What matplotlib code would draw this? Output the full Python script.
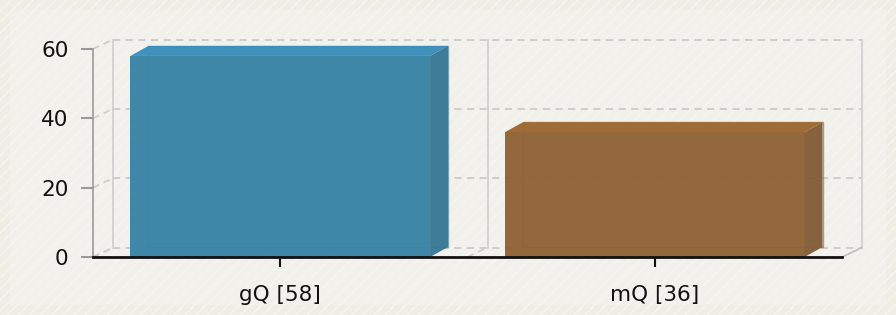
import matplotlib
matplotlib.use('Agg')
import matplotlib.pyplot as plt
from matplotlib.patches import Polygon, Rectangle

# data
labels = ['gQ [58]', 'mQ [36]']
values = [58, 36]
front_cols = ['#3783a5', '#8f6235']
top_cols = ['#3a8fbb', '#9d6830']
side_cols = ['#387896', '#845d38']
yticks = [0, 20, 40, 60]

W, H = 896, 315
fig = plt.figure(figsize=(W / 100, H / 100), dpi=100)
fig.patch.set_facecolor('#eeeee6')
# lighter inner panel with faint stripes
fig.patches.append(Rectangle((10 / W, 10 / H), 876 / W, 295 / H, transform=fig.transFigure,
                             facecolor='#f1f0eb', edgecolor='none', zorder=-2))
fig.patches.append(Rectangle((0, 0), 1, 1, transform=fig.transFigure, facecolor='none',
                             edgecolor='#f5f5f1', hatch='///', linewidth=0, zorder=-1))
plt.rcParams['hatch.linewidth'] = 1.5

ax = fig.add_axes([93 / W, 58 / H, 749 / W, 208 / H])
ax.patch.set_visible(False)
ax.set_xlim(0, 2)
ax.set_ylim(0, 60)

# pixel -> data unit helpers
px_x = 2 / 749
px_y = 60 / 208
bx, by = 20 * px_x, 9.5 * px_y   # back wall offset
dx, dy = 18 * px_x, 10 * px_y    # bar depth

grid_c = '#cbcbcb'
for v in yticks:
    ax.plot([0 + bx, 2 + bx], [v + by, v + by], color=grid_c, lw=1.3,
            ls=(0, (4, 3)), clip_on=False, zorder=1)
    ax.plot([0, bx], [v, v + by], color=grid_c, lw=1.2, ls=(0, (4, 3)),
            clip_on=False, zorder=1)
for xb in [0, 1, 2]:
    ax.plot([xb + bx, xb + bx], [by, 60 + by], color='#d0d0d0', lw=1.3,
            clip_on=False, zorder=1)
    ax.plot([xb, xb + bx], [0, by], color='#c0c0c0' if xb == 2 else grid_c, lw=1.2,
            ls='-' if xb == 2 else (0, (4, 3)), clip_on=False, zorder=1)

for i, v in enumerate(values):
    x0, x1 = i + 0.1, i + 0.9
    # hidden back edges
    ax.add_patch(Polygon([(x0 + dx, dy), (x0 + dx, v + dy), (x1 + dx, v + dy), (x1 + dx, dy)],
                         closed=True, facecolor='none', edgecolor=side_cols[i], lw=1,
                         alpha=0.6, zorder=2, clip_on=False))
    ax.add_patch(Polygon([(x0, 0), (x0, v), (x1, v), (x1, 0)], closed=True,
                         facecolor=front_cols[i], edgecolor='none', alpha=0.96, zorder=3,
                         clip_on=False))
    ax.add_patch(Polygon([(x0, v), (x0 + dx, v + dy), (x1 + dx, v + dy), (x1, v)], closed=True,
                         facecolor=top_cols[i], edgecolor='none', alpha=0.97, zorder=3,
                         clip_on=False))
    ax.add_patch(Polygon([(x1, 0), (x1, v), (x1 + dx, v + dy), (x1 + dx, dy)], closed=True,
                         facecolor=side_cols[i], edgecolor='none', alpha=0.97, zorder=3,
                         clip_on=False))

for s in ['top', 'right']:
    ax.spines[s].set_visible(False)
ax.spines['left'].set_color('#9a9a9a')
ax.spines['left'].set_linewidth(1.2)
ax.spines['bottom'].set_color('#111111')
ax.spines['bottom'].set_linewidth(2)
ax.spines['bottom'].set_zorder(5)

ax.set_xticks([0.5, 1.5], labels)
ax.set_yticks(yticks)
ax.tick_params(axis='y', length=8.6, width=1.5, color='#999999', pad=9, labelsize=15.5,
               labelcolor='#111111')
ax.tick_params(axis='x', length=7.2, width=1.5, color='#111111', pad=13, labelsize=15.5,
               labelcolor='#111111')

fig.savefig('out.png', dpi=100, facecolor=fig.get_facecolor())
